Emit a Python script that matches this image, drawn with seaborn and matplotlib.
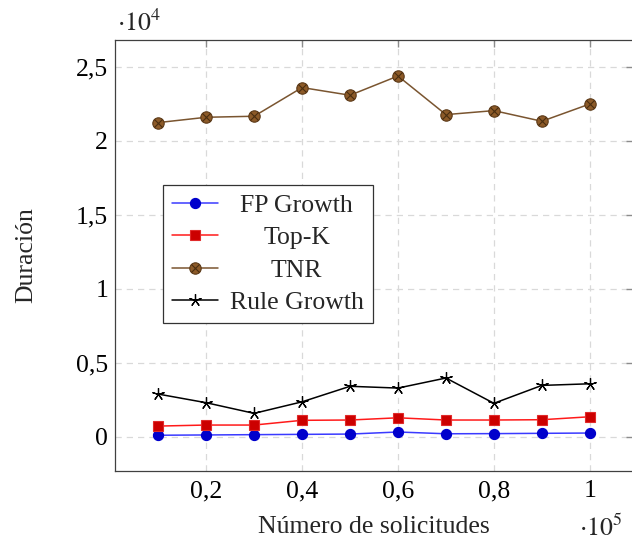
import matplotlib
matplotlib.use("Agg")
import matplotlib.pyplot as plt
from matplotlib.legend_handler import HandlerTuple
from matplotlib.ticker import FixedLocator, FuncFormatter
import numpy as np
import pandas as pd
import seaborn as sns

# Request counts and run durations per algorithm
solicitudes = [10000, 20000, 30000, 40000, 50000, 60000, 70000, 80000, 90000, 100000]
fp_growth = [100, 120, 140, 160, 180, 320, 200, 210, 230, 250]
top_k = [720, 790, 790, 1110, 1130, 1280, 1130, 1130, 1150, 1350]
tnr = [21240, 21600, 21670, 23610, 23090, 24390, 21780, 22050, 21330, 22500]
rule_growth = [2885, 2300, 1580, 2360, 3410, 3290, 3970, 2260, 3470, 3580]

x_ticks = [20000, 40000, 60000, 80000, 100000]
y_ticks = [0, 5000, 10000, 15000, 20000, 25000]

sns.set_style("white")
plt.rcParams["font.family"] = ["Liberation Serif", "DejaVu Serif"]
plt.rcParams["mathtext.fontset"] = "stix"

FS = 18.5

fig = plt.figure(figsize=(6.32, 5.48), dpi=100)
ax = fig.add_axes([115 / 632, 1 - 470.7 / 548, 518 / 632, 430.7 / 548])

df = pd.DataFrame({
    "n": solicitudes,
    "fp": fp_growth,
    "topk": top_k,
    "tnr": tnr,
    "rule": rule_growth,
})

sns.lineplot(data=df, x="n", y="fp", ax=ax, color="#3a3aff", lw=1.1,
             marker="o", markersize=7.3, markerfacecolor="#0000cc",
             markeredgecolor="#0000cc", markeredgewidth=0.8, zorder=3)
sns.lineplot(data=df, x="n", y="topk", ax=ax, color="#ff1a1a", lw=1.1,
             marker="s", markersize=7.4, markerfacecolor="#cc0000",
             markeredgecolor="#e02a2a", markeredgewidth=0.8, zorder=3)
sns.lineplot(data=df, x="n", y="tnr", ax=ax, color="#7a5530", lw=1.1,
             marker="o", markersize=8.2, markerfacecolor="#8c5a28",
             markeredgecolor="#5c3a18", markeredgewidth=0.8, zorder=3)
sns.lineplot(data=df, x="n", y="rule", ax=ax, color="black", lw=1.1,
             marker=(5, 2, 0), markersize=9, markeredgecolor="black",
             markeredgewidth=0.9, zorder=3)

lines = ax.get_lines()
# cross inside the TNR circles (otimes marks)
tnr_cross, = ax.plot(df["n"], df["tnr"], linestyle="none", marker="x",
                     markersize=5.2, markeredgecolor="#4a2e10",
                     markeredgewidth=0.8, zorder=4)

ax.set_xlim(1000, 109000)
ax.set_ylim(-2297, 26825)

ax.xaxis.set_major_locator(FixedLocator(x_ticks))
ax.yaxis.set_major_locator(FixedLocator(y_ticks))


def coma(v, pos, scale):
    s = f"{v / scale:g}"
    return s.replace(".", ",")


ax.xaxis.set_major_formatter(FuncFormatter(lambda v, p: coma(v, p, 1e5)))
ax.yaxis.set_major_formatter(FuncFormatter(lambda v, p: coma(v, p, 1e4)))

ax.tick_params(axis="both", which="major", direction="in", length=5,
               width=1.0, color="#8c8c8c", labelsize=FS, top=True, right=True,
               labelcolor="black")
ax.tick_params(axis="x", pad=7)
ax.tick_params(axis="y", pad=5)

ax.grid(True, linestyle=(0, (5, 4)), color="#d9d9d9", linewidth=0.9)
ax.set_axisbelow(True)
for sp in ax.spines.values():
    sp.set_color("#404040")
    sp.set_linewidth(0.9)

ax.set_xlabel("Número de solicitudes", fontsize=FS)
ax.set_ylabel("Duración", fontsize=FS)
ax.xaxis.set_label_coords(0.5, (470.7 - 527) / 430.7)
ax.xaxis.label.set_va("center")
ax.yaxis.set_label_coords((26 - 115) / 518, 0.5)
ax.yaxis.label.set_va("center")

fig.text(117 / 632, 1 - 31 / 548, r"$\cdot10^{4}$", fontsize=FS,
         ha="left", va="baseline")
fig.text(622 / 632, 1 - 536 / 548, r"$\cdot10^{5}$", fontsize=FS,
         ha="right", va="baseline")

handles = [lines[0], lines[1], (lines[2], tnr_cross), lines[3]]
labels = ["FP Growth", "Top-K", "TNR", "Rule Growth"]
leg = ax.legend(handles, labels, loc="upper left",
                bbox_to_anchor=((163 - 115) / 518, (470.7 - 185) / 430.7),
                borderaxespad=0, fontsize=FS, frameon=True, fancybox=False,
                edgecolor="#333333", framealpha=1, handlelength=1.8,
                handletextpad=0.45, labelspacing=0.37, borderpad=0.35,
                handler_map={tuple: HandlerTuple(ndivide=1, pad=0)})
leg.get_frame().set_linewidth(0.9)

# centre each legend entry's text within the text column
renderer = fig.canvas.get_renderer()
widths = [t.get_window_extent(renderer).width for t in leg.get_texts()]
wmax = max(widths)
for t, w in zip(leg.get_texts(), widths):
    t.set_x((wmax - w) / 2)

fig.savefig("out.png", dpi=100)
